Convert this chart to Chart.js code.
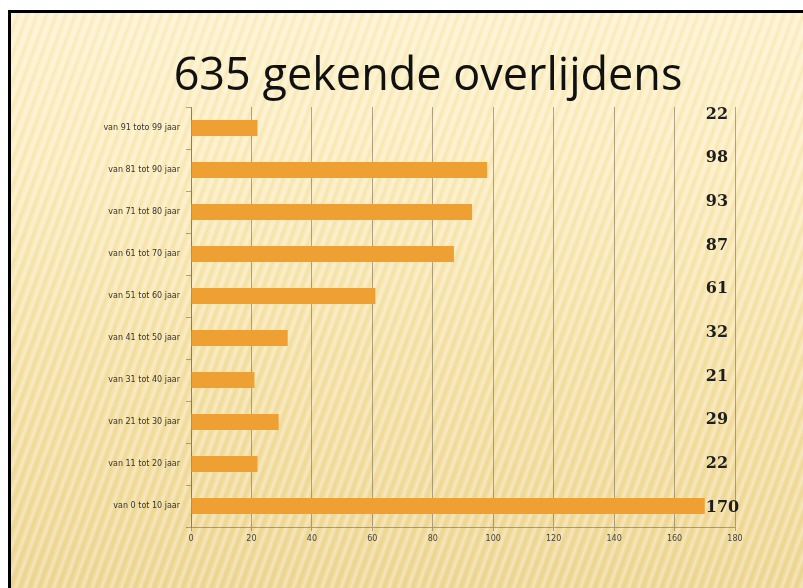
<!DOCTYPE html>
<html>
<head>
<meta charset="utf-8">
<script src="https://cdn.jsdelivr.net/npm/chart.js@4/dist/chart.umd.min.js"></script>
<style>
  html, body { margin: 0; padding: 0; background: #fff; }
  body { width: 803px; height: 588px; overflow: hidden; position: relative; }
  .slide {
    position: absolute; left: 8px; top: 10px; width: 860px; height: 620px;
    border: 3px solid #000; box-sizing: border-box;
    background:
      repeating-linear-gradient(110deg, rgba(255,255,255,0) 0px, rgba(255,255,255,0.34) 3px, rgba(255,255,255,0) 5px, rgba(170,130,40,0.07) 7px, rgba(255,255,255,0) 9px),
      linear-gradient(180deg, #fdf2cc 0%, #fcedbf 25%, #f6e3aa 55%, #eed795 100%);
  }
  .wrap { position: absolute; left: 0; top: 0; width: 803px; height: 588px; }
  canvas { display: block; }
</style>
</head>
<body>
<div class="slide"></div>
<div class="wrap"><canvas id="deaths" width="803" height="588"></canvas></div>
<script>
const titleText = '635 gekende overlijdens';
const ageGroups = [
    'van 91 toto 99 jaar',
    'van 81 tot 90 jaar',
    'van 71 tot 80 jaar',
    'van 61 tot 70 jaar',
    'van 51 tot 60 jaar',
    'van 41 tot 50 jaar',
    'van 31 tot 40 jaar',
    'van 21 tot 30 jaar',
    'van 11 tot 20 jaar',
    'van 0 tot 10 jaar',
];
const deaths = [22, 98, 93, 87, 61, 32, 21, 29, 22, 170];
const xTicks = [0, 20, 40, 60, 80, 100, 120, 140, 160, 180];

const barColor = '#efa032';
const gridColor = 'rgba(110, 100, 80, 0.55)';

// the numbers column on the right, spread a bit wider than the bars
const valueColumn = {
    id: 'valueColumn',
    afterDatasetsDraw(chart) {
        const { ctx, chartArea, scales } = chart;
        const x = scales.x.getPixelForValue(170) + 1;
        const h = chartArea.bottom - chartArea.top;
        ctx.save();
        ctx.font = 'bold 16px "DejaVu Serif"';
        ctx.fillStyle = '#1e1e1e';
        ctx.textAlign = 'left';
        ctx.textBaseline = 'middle';
        deaths.forEach((v, i) => {
            const y = chartArea.top + h * (0.018 + i * 0.104);
            ctx.fillText(String(v), x, y);
        });
        ctx.restore();
    },
};

new Chart(document.getElementById('deaths'), {
    type: 'bar',
    data: {
        labels: ageGroups,
        datasets: [
            {
                data: deaths,
                backgroundColor: barColor,
                borderWidth: 0,
                barPercentage: 0.38,
                categoryPercentage: 1,
            },
        ],
    },
    options: {
        indexAxis: 'y',
        responsive: false,
        animation: false,
        devicePixelRatio: 1,
        layout: { padding: { left: 80, right: 27, top: 0, bottom: 41 } },
        plugins: {
            legend: { display: false },
            tooltip: { enabled: false },
            title: {
                display: true,
                text: titleText,
                color: '#111',
                font: { family: 'Open Sans', size: 45, weight: 'normal' },
                padding: { top: 50, bottom: 3 },
            },
        },
        scales: {
            x: {
                min: 0,
                max: 180,
                afterBuildTicks: (s) => { s.ticks = xTicks.map(v => ({ value: v })); },
                afterFit: (s) => { s.height = 20; },
                grid: { color: gridColor, tickLength: 4, lineWidth: 1 },
                border: { color: gridColor },
                ticks: { color: '#444', padding: 3, maxRotation: 0, font: { family: 'DejaVu Sans', size: 8 } },
            },
            y: {
                afterFit: (s) => { s.width = 111; },
                grid: { drawOnChartArea: false, color: gridColor, tickLength: 5 },
                border: { color: gridColor },
                ticks: { color: '#333', padding: 6, font: { family: 'DejaVu Sans', size: 8 } },
            },
            // empty strip on the right so the title centres over the slide
            spacer: {
                type: 'category',
                position: 'right',
                labels: ageGroups,
                afterFit: (s) => { s.width = 41; },
                grid: { display: false },
                border: { display: false },
                ticks: { display: false },
            },
        },
    },
    plugins: [valueColumn],
});
</script>
</body>
</html>
